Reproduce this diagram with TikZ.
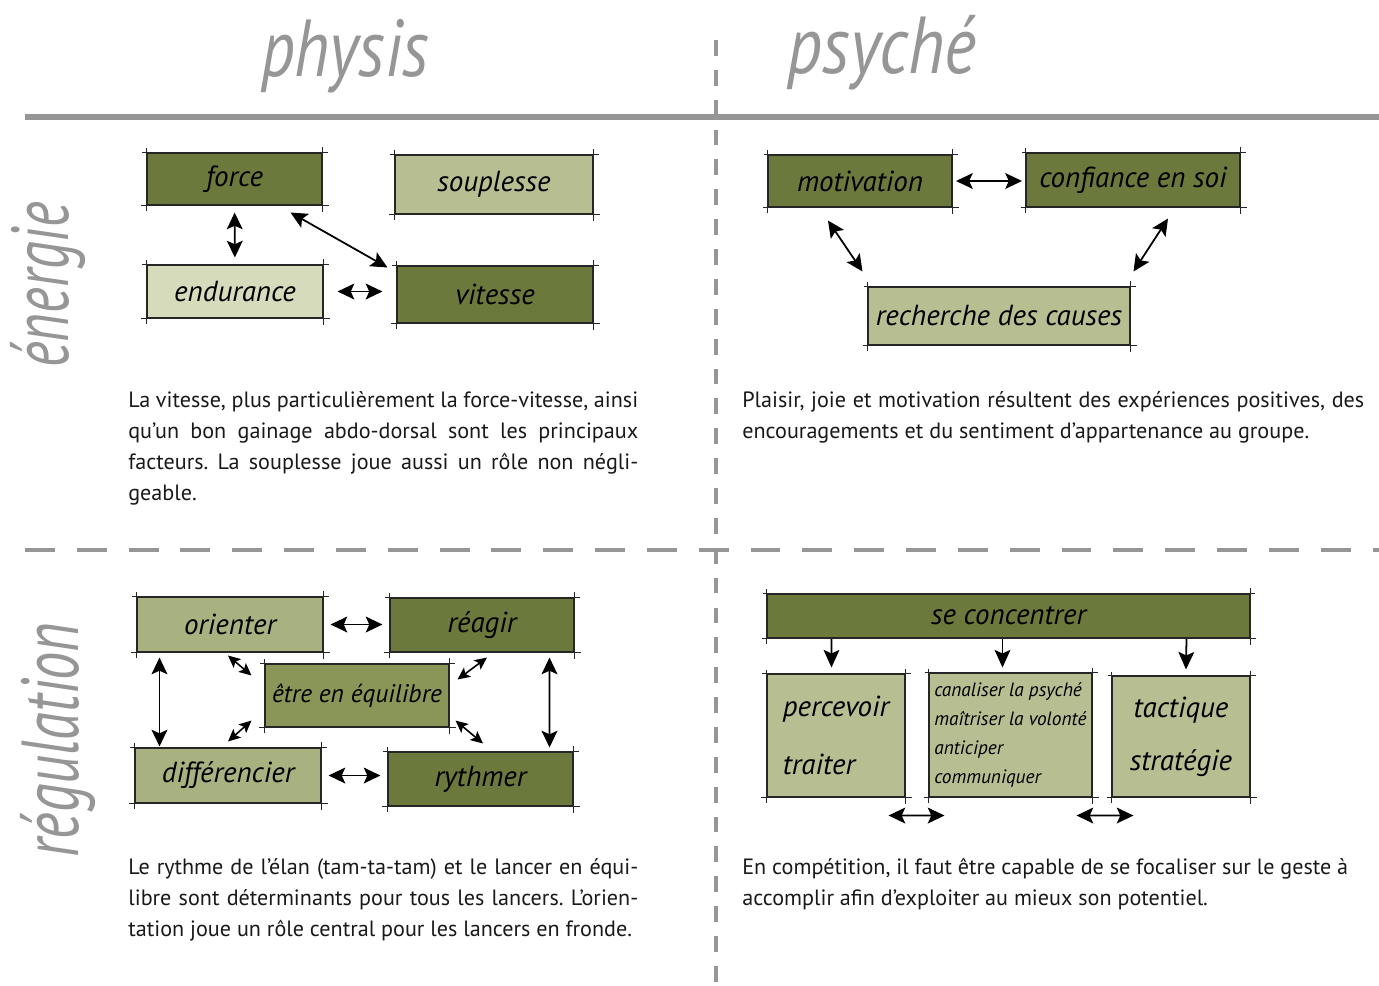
\documentclass[tikz,border=0pt]{standalone}
\usepackage{fontspec}
\setmainfont{PT Sans}
\newfontfamily\handfont{PT Sans}
\usetikzlibrary{arrows.meta,calc}
\definecolor{olivedark}{RGB}{108,121,60}
\definecolor{olivemid}{RGB}{138,150,88}
\definecolor{olivesoft}{RGB}{168,178,128}
\definecolor{olivelight}{RGB}{182,190,146}
\definecolor{olivepale}{RGB}{214,219,188}
\definecolor{rulegray}{RGB}{150,150,150}
\frenchspacing

\begin{document}
\begin{tikzpicture}[x=0.02cm,y=-0.02cm,
  box/.style={draw=black!85,line width=0.6pt,inner sep=0pt,
    font=\handfont\itshape\fontsize{16.5}{18}\selectfont},
  title/.style={text=rulegray,transform shape,font=\handfont\itshape\fontsize{46}{46}\selectfont},
  para/.style={anchor=north west,inner sep=0pt,align=justify,
    text=black!90,font=\fontsize{12.6}{17.6}\selectfont},
  dbl/.style={{Stealth[length=9.5pt,width=9pt,inset=2pt]}-{Stealth[length=9.5pt,width=9pt,inset=2pt]},line width=1pt},
  sml/.style={{Stealth[length=7pt,width=6.5pt,inset=1.5pt]}-{Stealth[length=7pt,width=6.5pt,inset=1.5pt]},line width=0.9pt},
  one/.style={-{Stealth[length=10pt,width=9pt,inset=2pt]},line width=1pt}]
\useasboundingbox (0,0) rectangle (1379,985);

% grid of the page
\draw[rulegray,line width=3.4pt] (25,117) -- (1379,117);
\draw[rulegray,line width=2.2pt,dash pattern=on 17pt off 12.5pt] (25,550) -- (1379,550);
\draw[rulegray,line width=2.2pt,dash pattern=on 9pt off 8pt] (716,40) -- (716,985);

% headings
\node[title,xscale=0.82] (physis) at (345,56) {physis};
\node[title,xscale=0.85] (psyche) at (882,53) {psyché};
\node[title,rotate=90,xscale=0.68] (energie) at (48,285) {énergie};
\node[title,rotate=90,xscale=0.7] (regulation) at (58,740) {régulation};

% energie / physis
\node[box,fill=olivedark,minimum width=3.5cm,minimum height=1.04cm] (force) at (234.5,179) {force};
\node[box,fill=olivelight,minimum width=3.96cm,minimum height=1.18cm] (souplesse) at (494,184.5) {souplesse};
\node[box,fill=olivepale,minimum width=3.52cm,minimum height=1.06cm] (endurance) at (235,291.5) {endurance};
\node[box,fill=olivedark,minimum width=3.92cm,minimum height=1.14cm] (vitesse) at (495,294.5) {vitesse};
\draw[dbl,shorten <=4pt,shorten >=4pt] (force) -- (endurance);
\draw[dbl] ($(force.south east)+(-32,7)$) -- ($(vitesse.north west)+(-9,2)$);
\draw[dbl,shorten <=8pt,shorten >=8pt] (endurance.east) -- (endurance.east -| vitesse.west);

% energie / psyche
\node[box,fill=olivedark,minimum width=3.68cm,minimum height=1.04cm] (motivation) at (860,181) {motivation};
\node[box,fill=olivedark,minimum width=4.28cm,minimum height=1.08cm] (confiance) at (1133,180) {confiance en soi};
\node[box,fill=olivelight,minimum width=5.24cm,minimum height=1.16cm] (causes) at (999,316) {recherche des causes};
\draw[dbl,shorten <=2pt,shorten >=2pt] (motivation.east) -- (motivation.east -| confiance.west);
\draw[dbl] ($(motivation.south)+(-32,13)$) -- ($(causes.north west)+(-5,-15)$);
\draw[dbl] ($(confiance.south)+(35,11)$) -- ($(causes.north east)+(3,-15)$);

% regulation / physis
\node[box,fill=olivesoft,minimum width=3.72cm,minimum height=1.1cm] (orienter) at (230,624.5) {orienter};
\node[box,fill=olivedark,minimum width=3.68cm,minimum height=1.08cm] (reagir) at (482,625) {réagir};
\node[box,fill=olivemid,minimum width=3.68cm,minimum height=1.26cm,
  font=\handfont\itshape\fontsize{14.5}{18}\selectfont] (equilibre) at (357,695.5) {être en équilibre};
\node[box,fill=olivesoft,minimum width=3.72cm,minimum height=1.1cm] (differencier) at (228,775.5) {différencier};
\node[box,fill=olivedark,minimum width=3.7cm,minimum height=1.08cm] (rythmer) at (480.5,779) {rythmer};
\draw[dbl,shorten <=4pt,shorten >=4pt] (orienter.east) -- (orienter.east -| reagir.west);
\draw[dbl,shorten <=4pt,shorten >=4pt] (differencier.east) -- (differencier.east -| rythmer.west);
\draw[dbl] ($(orienter.south west)+(23,5)$) -- ($(differencier.north west)+(25,-1)$);
\draw[dbl] ($(reagir.south east)+(-25,5)$) -- ($(rythmer.north east)+(-24,-4)$);
\draw[sml] ($(orienter.south)+(-2,3)$) -- ($(equilibre.north west)+(-13,12)$);
\draw[sml] ($(equilibre.north east)+(8,16)$) -- ($(reagir.south)+(5,5)$);
\draw[sml] ($(equilibre.south west)+(-13,-7)$) -- ($(differencier.north)+(0,-6)$);
\draw[sml] ($(equilibre.south east)+(6,-7)$) -- ($(rythmer.north)+(2.5,-8)$);

% regulation / psyche
\node[box,fill=olivedark,minimum width=9.66cm,minimum height=0.88cm] (concentrer) at (1008.5,616) {se concentrer};
\node[box,fill=olivelight,minimum width=2.76cm,minimum height=2.46cm,align=left] (percevoir) at (836,735.5)
  {percevoir\\[15pt]traiter};
\node[box,fill=olivelight,minimum width=3.26cm,minimum height=2.48cm,align=left,
  font=\handfont\itshape\fontsize{11}{16.5}\selectfont] (canaliser) at (1010.5,735)
  {canaliser la psyché\\maîtriser la volonté\\anticiper\\communiquer};
\node[box,fill=olivelight,minimum width=2.76cm,minimum height=2.42cm,align=center] (tactique) at (1181,736.5)
  {tactique\\[12pt]stratégie};
\draw[one] ($(concentrer.south west)+(65,0)$) -- ($(percevoir.north west)+(65,-6)$);
\draw[one] ($(concentrer.south)+(-6,0)$) -- ($(canaliser.north)+(-8,-5)$);
\draw[one] ($(concentrer.south east)+(-64,0)$) -- ($(tactique.north)+(5,-6)$);
\draw[dbl] ($(percevoir.south east)+(-17,18)$) -- ($(canaliser.south west)+(16,18)$);
\draw[dbl] ($(canaliser.south east)+(-16,18)$) -- ($(tactique.south west)+(22,18)$);

% sketchy corners
\foreach \n in {force,souplesse,endurance,vitesse,motivation,confiance,causes,
  orienter,reagir,equilibre,differencier,rythmer,concentrer,percevoir,canaliser,tactique} {
  \draw[black!85,line width=0.6pt] ($(\n.north west)+(-4,0)$) -- ($(\n.north east)+(5,0)$);
  \draw[black!85,line width=0.6pt] ($(\n.south west)+(-5,0)$) -- ($(\n.south east)+(6,0)$);
  \draw[black!85,line width=0.6pt] ($(\n.north west)+(0,-4)$) -- ($(\n.south west)+(0,5)$);
  \draw[black!85,line width=0.6pt] ($(\n.north east)+(0,-5)$) -- ($(\n.south east)+(0,6)$);
}

% texts
\node[para,text width=10.2cm] (txtenergie) at (128,391)
  {La vitesse, plus particulièrement la force-vitesse, ainsi\linebreak
   qu’un bon gainage abdo-dorsal sont les principaux\linebreak
   facteurs. La souplesse joue aussi un rôle non négli-\linebreak
   geable.};
\node[para,text width=12.44cm] (txtplaisir) at (742,391)
  {Plaisir, joie et motivation résultent des expériences positives, des\linebreak
   encouragements et du sentiment d’appartenance au groupe.};
\node[para,text width=10.2cm] (txtrythme) at (128,858)
  {Le rythme de l’élan (tam-ta-tam) et le lancer en équi-\linebreak
   libre sont déterminants pour tous les lancers. L’orien-\linebreak
   tation joue un rôle central pour les lancers en fronde.};
\node[para,text width=12.12cm] (txtcompet) at (742,858)
  {En compétition, il faut être capable de se focaliser sur le geste à\linebreak
   accomplir afin d’exploiter au mieux son potentiel.};
\end{tikzpicture}
\end{document}
